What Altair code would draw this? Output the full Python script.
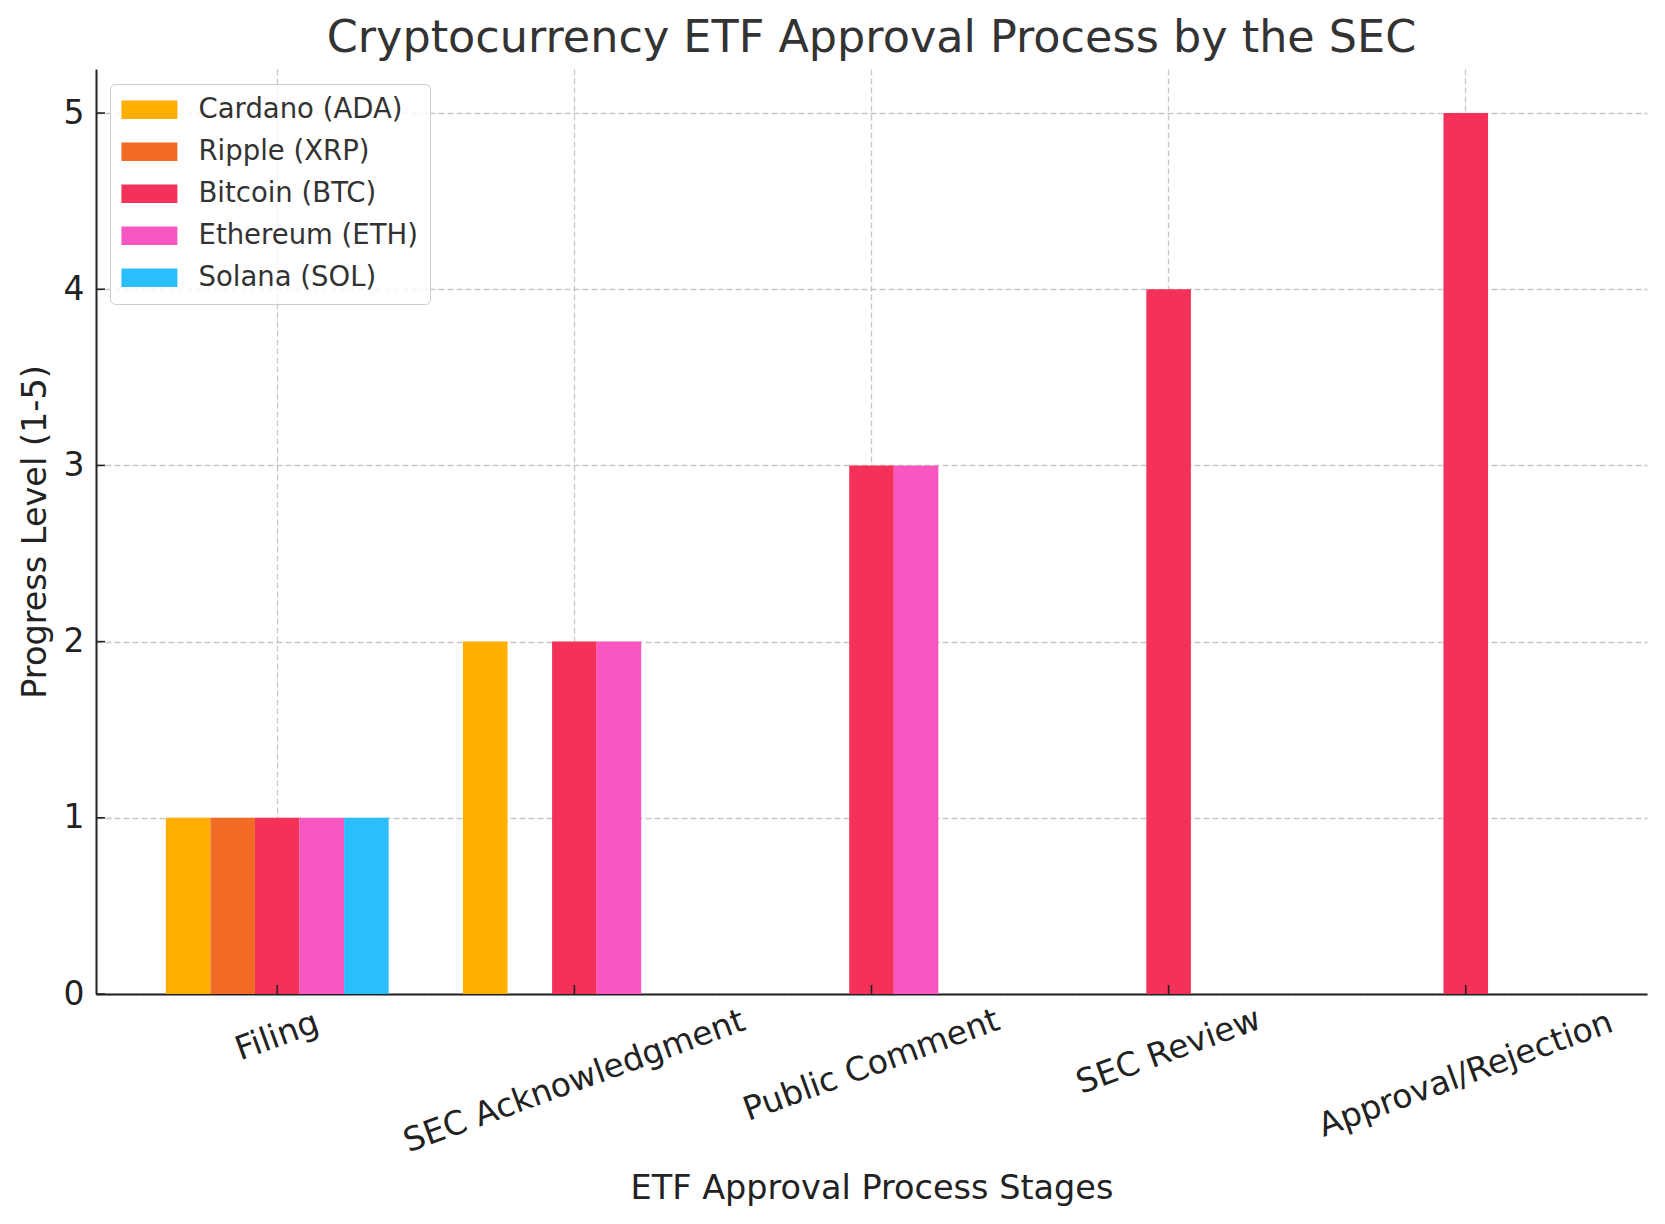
import altair as alt
import pandas as pd

# ---- data ----
stages = ["Filing", "SEC Acknowledgment", "Public Comment", "SEC Review", "Approval/Rejection"]
cryptos = ["Cardano (ADA)", "Ripple (XRP)", "Bitcoin (BTC)", "Ethereum (ETH)", "Solana (SOL)"]
cardano = [1, 2, 0, 0, 0]
ripple = [1, 0, 0, 0, 0]
bitcoin = [1, 2, 3, 4, 5]
ethereum = [1, 2, 3, 0, 0]
solana = [1, 0, 0, 0, 0]
y_ticks = [0, 1, 2, 3, 4, 5]

colors = ["#FFAE00", "#F26B25", "#F43158", "#F857C1", "#2ABEFD"]

series = [cardano, ripple, bitcoin, ethereum, solana]
rows = []
for name, vals in zip(cryptos, series):
    for st, v in zip(stages, vals):
        rows.append({"stage": st, "crypto": name, "value": v})
df = pd.DataFrame(rows)
ytick_df = pd.DataFrame({"value": y_ticks})
xtick_df = pd.DataFrame({"stage": stages})

# ---- style ----
FONT = "DejaVu Sans"
W, H = 1551, 925
label_pad = {"Filing": 42, "SEC Acknowledgment": 87, "Public Comment": 71,
             "SEC Review": 57, "Approval/Rejection": 80}
pad_cond = [{"test": f"datum.value === '{k}'", "value": v} for k, v in label_pad.items()]

x_title = "ETF Approval Process Stages"
y_title = "Progress Level (1-5)"

x_enc = alt.X(
    "stage:N", sort=stages, title=x_title,
    scale=alt.Scale(paddingInner=0.25, paddingOuter=0.235),
    axis=alt.Axis(
        labelAngle=-20, labelAlign="center", labelBaseline="middle",
        labelPadding={"condition": pad_cond, "value": 50},
        labelOverlap=False, labelBound=False, labelLimit=0,
        labelFontSize=33, ticks=False, tickSize=0,
        titleFontSize=33.5, titleBaseline="middle", titleY=194,
    ),
)
y_enc = alt.Y(
    "value:Q", title=y_title,
    scale=alt.Scale(domain=[0, 5.25], nice=False, zero=True),
    axis=alt.Axis(values=y_ticks, format="d", labelFontSize=33, labelPadding=12,
                  ticks=False, tickSize=0,
                  titleFontSize=33.5, titleBaseline="middle", titleAngle=-90,
                  titleX=-61, titleY=H / 2),
)

bars = alt.Chart(df).mark_bar().encode(
    x=x_enc,
    xOffset=alt.XOffset("crypto:N", sort=cryptos, scale=alt.Scale(paddingInner=0, paddingOuter=0)),
    y=y_enc,
    color=alt.Color(
        "crypto:N", sort=cryptos,
        scale=alt.Scale(domain=cryptos, range=colors),
        legend=alt.Legend(
            title=None, orient="none", legendX=14, legendY=15, direction="vertical",
            symbolType="M-1,-1H5V1H-1Z", symbolSize=348, symbolStrokeWidth=0, symbolOpacity=1,
            symbolOffset=-5,
            labelFontSize=27.5, labelFont=FONT, labelColor="#333333", labelOffset=54,
            labelLimit=0,
            rowPadding=13, padding=12, fillColor="rgba(255,255,255,0.8)",
            strokeColor="#cccccc", cornerRadius=5,
        ),
    ),
)

ytick = alt.Chart(ytick_df).mark_rule(color="#222222", strokeWidth=1.6).encode(
    y=alt.Y("value:Q", title=y_title),
    x=alt.value(0), x2=alt.value(9),
)
xtick = alt.Chart(xtick_df).mark_rule(color="#222222", strokeWidth=1.6).encode(
    x=alt.X("stage:N", sort=stages, title=x_title, bandPosition=0.5),
    y=alt.value(H), y2=alt.value(H - 9),
)

chart = alt.layer(bars, ytick, xtick).properties(
    width=W, height=H,
    title=alt.Title("Cryptocurrency ETF Approval Process by the SEC", fontSize=44.5, font=FONT,
                    color="#333333", fontWeight="normal", anchor="middle", offset=8),
    padding={"left": 88, "top": 61, "right": 10, "bottom": 215},
    autosize=alt.AutoSizeParams(type="none"),
).configure_view(stroke=None).configure_axis(
    labelFont=FONT, titleFont=FONT, labelColor="#222222", titleColor="#222222",
    titleFontWeight="normal",
    domainColor="#222222", domainWidth=2,
    grid=True, gridColor="#b0b0b0", gridOpacity=0.7, gridDash=[6, 3], gridWidth=1.3,
    zindex=1,
)

chart.save("out.html", embed_options={"renderer": "svg", "actions": False})
